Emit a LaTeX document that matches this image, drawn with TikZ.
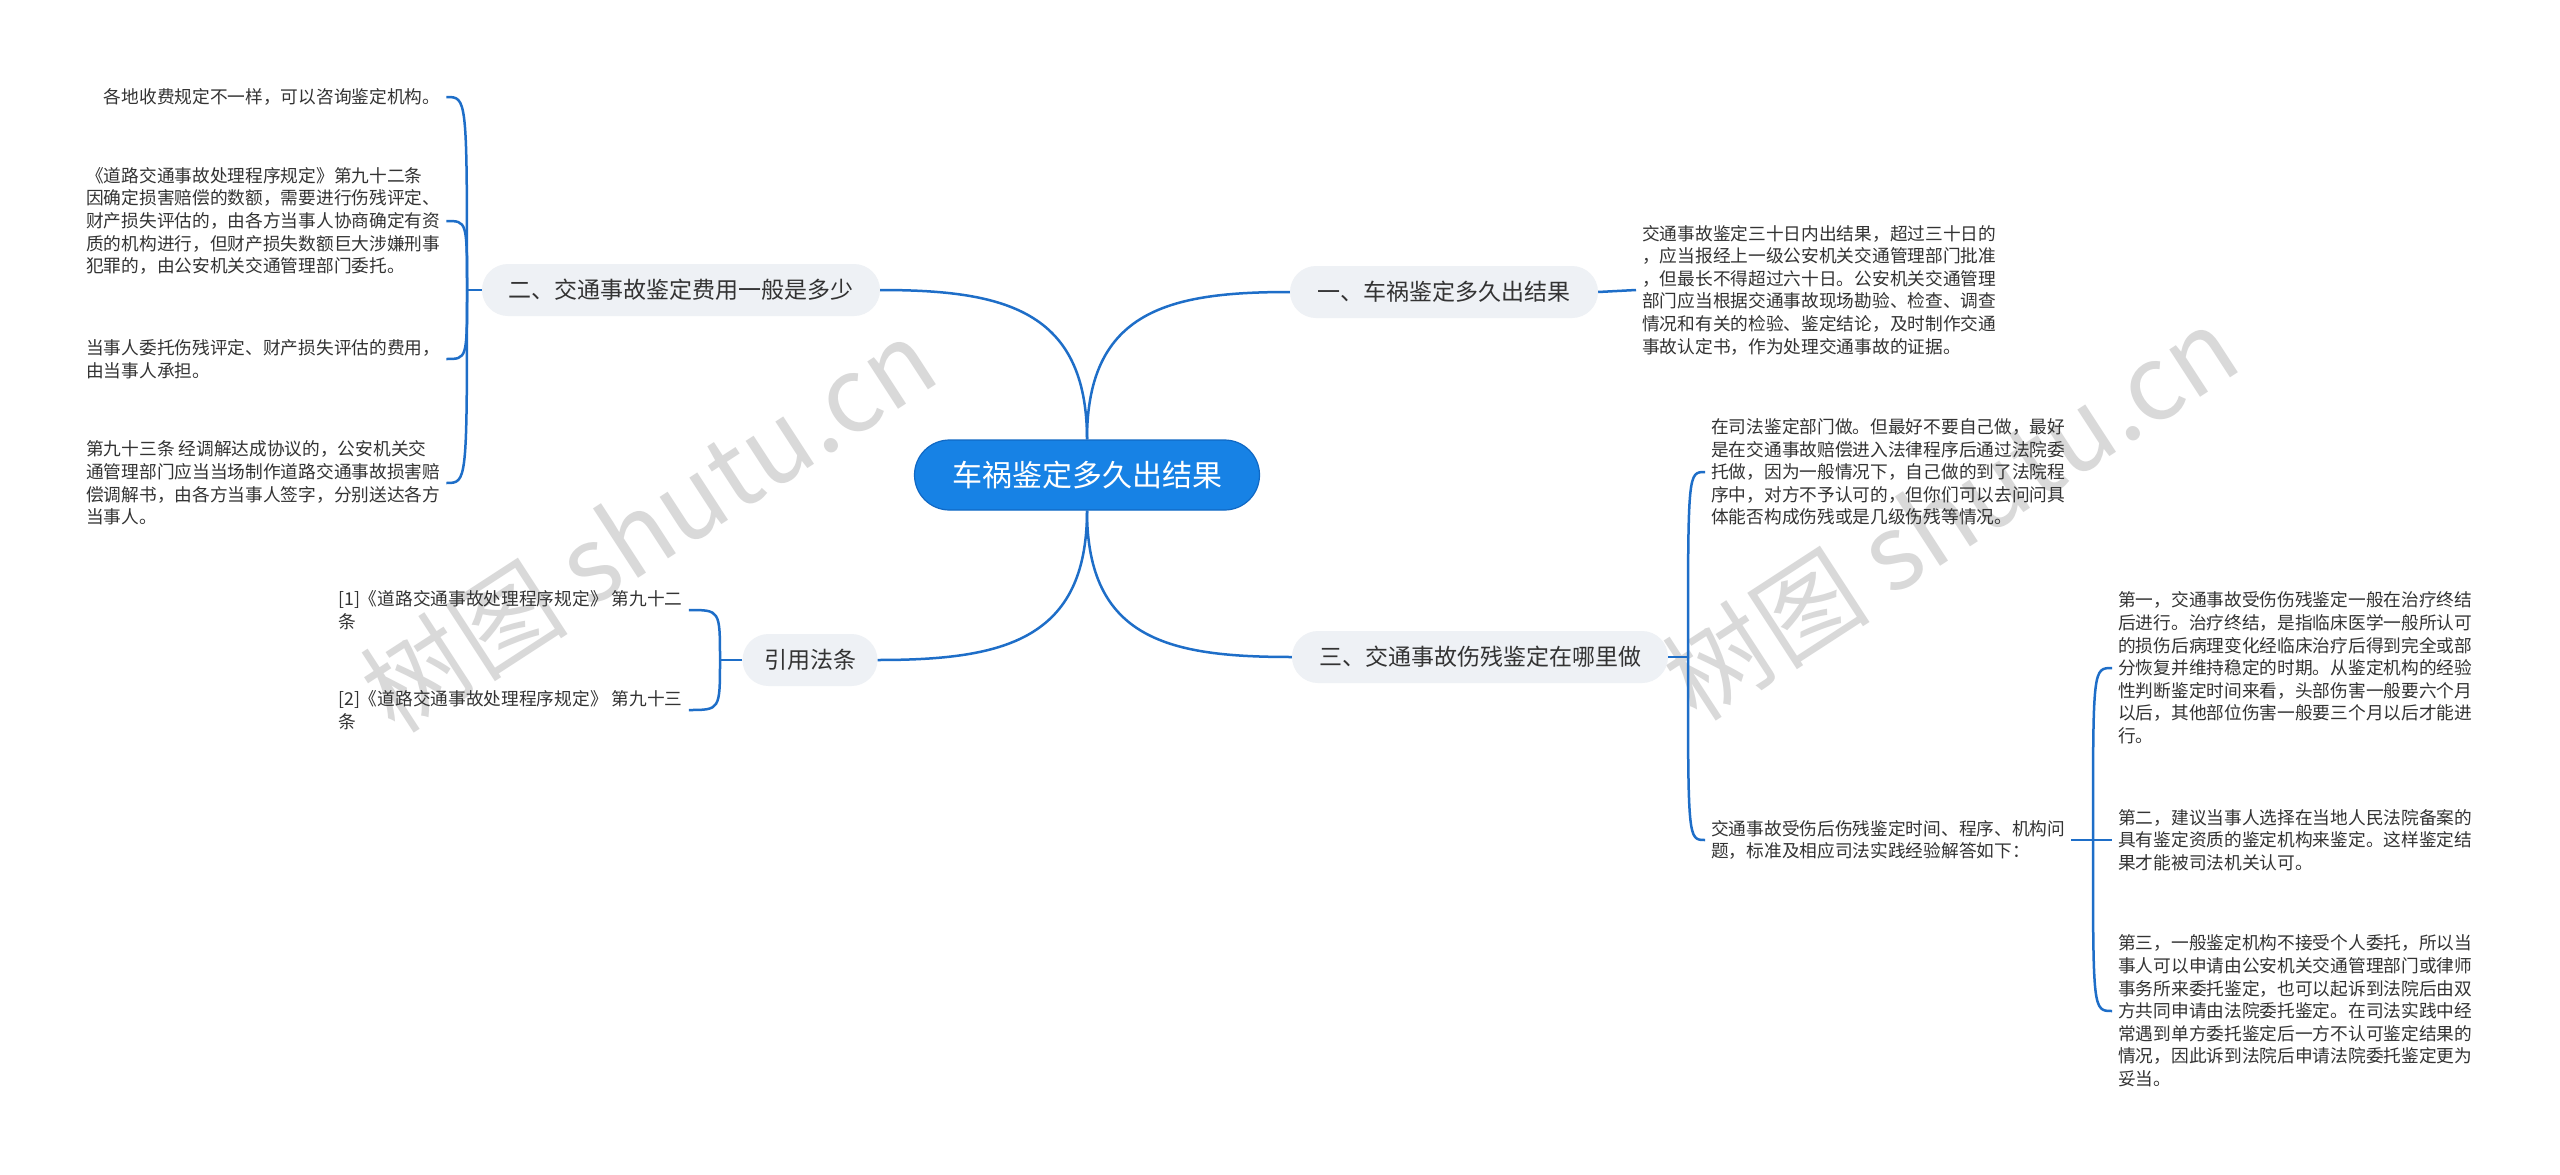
\documentclass[tikz,border=0pt]{standalone}
\usepackage{fontspec}
\setmainfont{Noto Sans CJK SC}
\usetikzlibrary{calc}
\definecolor{linkc}{HTML}{1E6EC8}
\definecolor{rootc}{HTML}{1782E5}
\definecolor{rootb}{HTML}{1068C4}
\definecolor{brfill}{HTML}{EEF1F5}
\definecolor{txt}{HTML}{333333}
\definecolor{wm}{HTML}{D9D9D9}
\begin{document}
\begin{tikzpicture}[x=1pt,y=-1pt,
 root/.style={fill=rootc, draw=rootb, line width=1.2pt, rounded corners=35pt, minimum width=345pt, minimum height=70pt, text=white, font=\fontsize{30}{36}\selectfont, inner sep=0pt},
 branch/.style={fill=brfill, draw=none, rounded corners=26pt, minimum height=52pt, text=txt, font=\fontsize{23}{28}\selectfont, inner sep=0pt},
 leaf/.style={align=left, text=txt, font=\fontsize{17.7}{22.6}\selectfont, inner xsep=6pt, inner ysep=2pt},
 link/.style={draw=linkc, line width=2.5pt},
 wmark/.style={text=wm, font=\fontsize{104}{110}\selectfont, rotate=33}
]
\fill[white] (0,0) rectangle (2560,1175);
\useasboundingbox (0,0) rectangle (2560,1175);

% watermarks
\node[wmark] (wm1) at (648,525) {树图 shutu.cn};
\node[wmark] (wm2) at (1950,513) {树图 shutu.cn};

% main nodes
\node[root] (root) at (1087,475) {车祸鉴定多久出结果};
\node[branch, minimum width=308pt] (b1) at (1444,292) {一、车祸鉴定多久出结果};
\node[branch, minimum width=398pt] (b2) at (681,290) {二、交通事故鉴定费用一般是多少};
\node[branch, minimum width=376pt] (b3) at (1480,657) {三、交通事故伤残鉴定在哪里做};
\node[branch, minimum width=135pt] (b4) at (810,660) {引用法条};

% leaves of branch 1
\node[leaf, anchor=west] (l1) at (1636,290) {交通事故鉴定三十日内出结果，超过三十日的\\，应当报经上一级公安机关交通管理部门批准\\，但最长不得超过六十日。公安机关交通管理\\部门应当根据交通事故现场勘验、检查、调查\\情况和有关的检验、鉴定结论，及时制作交通\\事故认定书，作为处理交通事故的证据。};

% leaves of branch 2
\node[leaf, anchor=west] (l2a) at (80,97) {\hspace*{1em}各地收费规定不一样，可以咨询鉴定机构。};
\node[leaf, anchor=west] (l2b) at (80,221) {《道路交通事故处理程序规定》第九十二条\\因确定损害赔偿的数额，需要进行伤残评定、\\财产损失评估的，由各方当事人协商确定有资\\质的机构进行，但财产损失数额巨大涉嫌刑事\\犯罪的，由公安机关交通管理部门委托。};
\node[leaf, anchor=west] (l2c) at (80,359) {当事人委托伤残评定、财产损失评估的费用，\\由当事人承担。};
\node[leaf, anchor=west] (l2d) at (80,483) {第九十三条 经调解达成协议的，公安机关交\\通管理部门应当当场制作道路交通事故损害赔\\偿调解书，由各方当事人签字，分别送达各方\\当事人。};

% leaves of branch 3
\node[leaf, anchor=west] (l3a) at (1705,472) {在司法鉴定部门做。但最好不要自己做，最好\\是在交通事故赔偿进入法律程序后通过法院委\\托做，因为一般情况下，自己做的到了法院程\\序中，对方不予认可的，但你们可以去问问具\\体能否构成伤残或是几级伤残等情况。};
\node[leaf, anchor=west] (l3b) at (1705,840) {交通事故受伤后伤残鉴定时间、程序、机构问\\题，标准及相应司法实践经验解答如下：};
\node[leaf, anchor=west] (l3b1) at (2112,668) {第一，交通事故受伤伤残鉴定一般在治疗终结\\后进行。治疗终结，是指临床医学一般所认可\\的损伤后病理变化经临床治疗后得到完全或部\\分恢复并维持稳定的时期。从鉴定机构的经验\\性判断鉴定时间来看，头部伤害一般要六个月\\以后，其他部位伤害一般要三个月以后才能进\\行。};
\node[leaf, anchor=west] (l3b2) at (2112,840) {第二，建议当事人选择在当地人民法院备案的\\具有鉴定资质的鉴定机构来鉴定。这样鉴定结\\果才能被司法机关认可。};
\node[leaf, anchor=west] (l3b3) at (2112,1011) {第三，一般鉴定机构不接受个人委托，所以当\\事人可以申请由公安机关交通管理部门或律师\\事务所来委托鉴定，也可以起诉到法院后由双\\方共同申请由法院委托鉴定。在司法实践中经\\常遇到单方委托鉴定后一方不认可鉴定结果的\\情况，因此诉到法院后申请法院委托鉴定更为\\妥当。};

% leaves of branch 4
\node[leaf, anchor=west] (l4a) at (332,610) {[1]《道路交通事故处理程序规定》 第九十二\\条};
\node[leaf, anchor=west] (l4b) at (332,710) {[2]《道路交通事故处理程序规定》 第九十三\\条};

% junctions
\coordinate (j2) at (467,290);
\coordinate (j3) at (1688,657);
\coordinate (j3b) at (2093,840);
\coordinate (j4) at (720,660);

% root connectors
\draw[link] (root.north) .. controls (1087,310) and (1170,292) .. (b1.west);
\draw[link] (root.north) .. controls (1087,310) and (1004,290) .. (b2.east);
\draw[link] (root.south) .. controls (1087,640) and (1170,657) .. (b3.west);
\draw[link] (root.south) .. controls (1087,640) and (1004,660) .. (b4.east);

% branch 1
\draw[link] (b1.east) -- (l1.west);

% branch 2
\draw[link] (b2.west) -- (j2);
\foreach \n in {l2a,l2b,l2c,l2d}{
  \draw[link] (j2) .. controls (j2 |- \n.east) and (j2 |- \n.east) .. (\n.east);
}

% branch 3
\draw[link] (b3.east) -- (j3);
\foreach \n in {l3a,l3b}{
  \draw[link] (j3) .. controls (j3 |- \n.west) and (j3 |- \n.west) .. (\n.west);
}
\draw[link] (l3b.east) -- (j3b);
\foreach \n in {l3b1,l3b2,l3b3}{
  \draw[link] (j3b) .. controls (j3b |- \n.west) and (j3b |- \n.west) .. (\n.west);
}

% branch 4
\draw[link] (b4.west) -- (j4);
\foreach \n in {l4a,l4b}{
  \draw[link] (j4) .. controls (j4 |- \n.east) and (j4 |- \n.east) .. (\n.east);
}
\end{tikzpicture}
\end{document}
